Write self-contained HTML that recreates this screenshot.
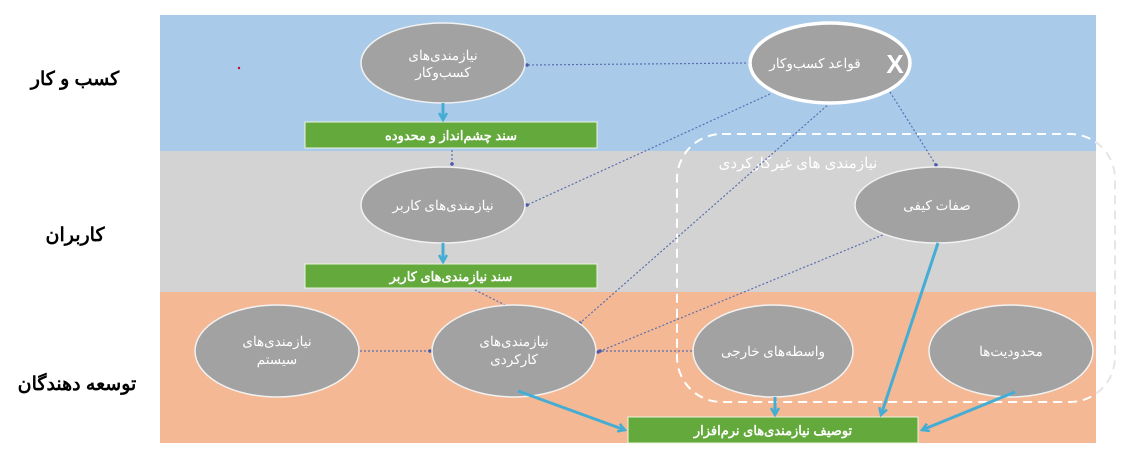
<!DOCTYPE html>
<html><head><meta charset="utf-8"><style>
body{margin:0;width:1144px;height:452px;background:#fff;overflow:hidden}
svg text{font-family:"Liberation Sans","Noto Sans CJK SC",sans-serif}
</style></head><body>
<svg width="1144" height="452" xmlns="http://www.w3.org/2000/svg">
<defs>
<marker id="a" markerWidth="10" markerHeight="10" refX="8" refY="5" orient="auto" markerUnits="userSpaceOnUse"><path d="M1,1 L8,5 L1,9" fill="none" stroke="#45add3" stroke-width="2.5"/></marker>
<marker id="d" markerWidth="4" markerHeight="4" refX="2" refY="2" markerUnits="userSpaceOnUse"><circle cx="2" cy="2" r="1.8" fill="#4a5aa8"/></marker>
<clipPath id="out"><rect x="1096" y="0" width="48" height="452"/></clipPath>
</defs>
<rect x="160" y="15" width="936" height="136" fill="#a9cbe9"/>
<rect x="160" y="151" width="936" height="141" fill="#d3d3d3"/>
<rect x="160" y="292" width="936" height="151" fill="#f4b994"/>
<rect x="677" y="134" width="438" height="268" rx="45" fill="none" stroke="#fff" stroke-width="2" stroke-dasharray="9,6"/>
<rect x="677" y="134" width="438" height="268" rx="45" fill="none" stroke="#e6e6e6" stroke-width="2" stroke-dasharray="9,6" clip-path="url(#out)"/>
<text x="798" y="168" font-size="15" fill="#fff" text-anchor="middle" direction="rtl">نیازمندی های غیرکارکردی</text>
<g stroke="#5b6fb0" stroke-width="1.2" stroke-dasharray="2,2" fill="none" marker-end="url(#d)">
<line x1="750" y1="63" x2="527" y2="65"/>
<line x1="770" y1="94" x2="527" y2="205"/>
<line x1="830" y1="103" x2="580" y2="323"/>
<line x1="890" y1="92" x2="936" y2="165"/>
<line x1="452" y1="150" x2="452" y2="164"/>
<line x1="475" y1="290" x2="515" y2="310"/>
<line x1="890" y1="232" x2="598" y2="352"/>
<line x1="360" y1="351" x2="430" y2="351"/>
<line x1="692" y1="351" x2="600" y2="351"/>
</g>
<g fill="#a2a2a2" stroke="#f2f2f2" stroke-width="1.5">
<ellipse cx="443" cy="63" rx="82" ry="40"/>
<ellipse cx="443" cy="205" rx="82" ry="38"/>
<ellipse cx="937" cy="205" rx="82" ry="38"/>
<ellipse cx="277" cy="351" rx="82" ry="46"/>
<ellipse cx="514" cy="351" rx="82" ry="46"/>
<ellipse cx="773" cy="351" rx="80" ry="46"/>
<ellipse cx="1011" cy="351" rx="82" ry="46"/>
</g>
<ellipse cx="830" cy="63" rx="80" ry="40" fill="#a2a2a2" stroke="#fff" stroke-width="3.5"/>
<g fill="#fff" font-size="13.5" text-anchor="middle" direction="rtl">
<text x="443" y="60">نیازمندی‌های</text><text x="443" y="77">کسب‌وکار</text>
<text x="815" y="68">قواعد کسب‌وکار</text>
<text x="443" y="210">نیازمندی‌های کاربر</text>
<text x="937" y="210">صفات کیفی</text>
<text x="277" y="346">نیازمندی‌های</text><text x="277" y="364">سیستم</text>
<text x="514" y="346">نیازمندی‌های</text><text x="514" y="364">کارکردی</text>
<text x="773" y="356">واسطه‌های خارجی</text>
<text x="1011" y="356">محدودیت‌ها</text>
</g>
<text x="895" y="73" font-size="26" font-weight="bold" fill="#fff" text-anchor="middle">X</text>
<g fill="#63a93c" stroke="#eaf5e0" stroke-width="1">
<rect x="305" y="122" width="292" height="26"/>
<rect x="305" y="264" width="292" height="24"/>
<rect x="628" y="417" width="290" height="26"/>
</g>
<g fill="#fff" font-size="13" font-weight="bold" text-anchor="middle" direction="rtl">
<text x="451" y="140">سند چشم‌انداز و محدوده</text>
<text x="451" y="281">سند نیازمندی‌های کاربر</text>
<text x="773" y="435">توصیف نیازمندی‌های نرم‌افزار</text>
</g>
<g stroke="#45add3" stroke-width="3" fill="none" marker-end="url(#a)">
<line x1="443" y1="103" x2="443" y2="120"/>
<line x1="443" y1="243" x2="443" y2="262"/>
<line x1="518" y1="391" x2="625" y2="430"/>
<line x1="775" y1="397" x2="775" y2="415"/>
<line x1="938" y1="243" x2="881" y2="415"/>
<line x1="1015" y1="392" x2="922" y2="430"/>
</g>
<circle cx="239" cy="68" r="1.2" fill="#c03"/>
<g font-size="19" font-weight="bold" fill="#000" text-anchor="middle" direction="rtl">
<text x="75" y="85">کسب و کار</text>
<text x="75" y="241">کاربران</text>
<text x="77" y="390">توسعه دهندگان</text>
</g>
</svg>
</body></html>
